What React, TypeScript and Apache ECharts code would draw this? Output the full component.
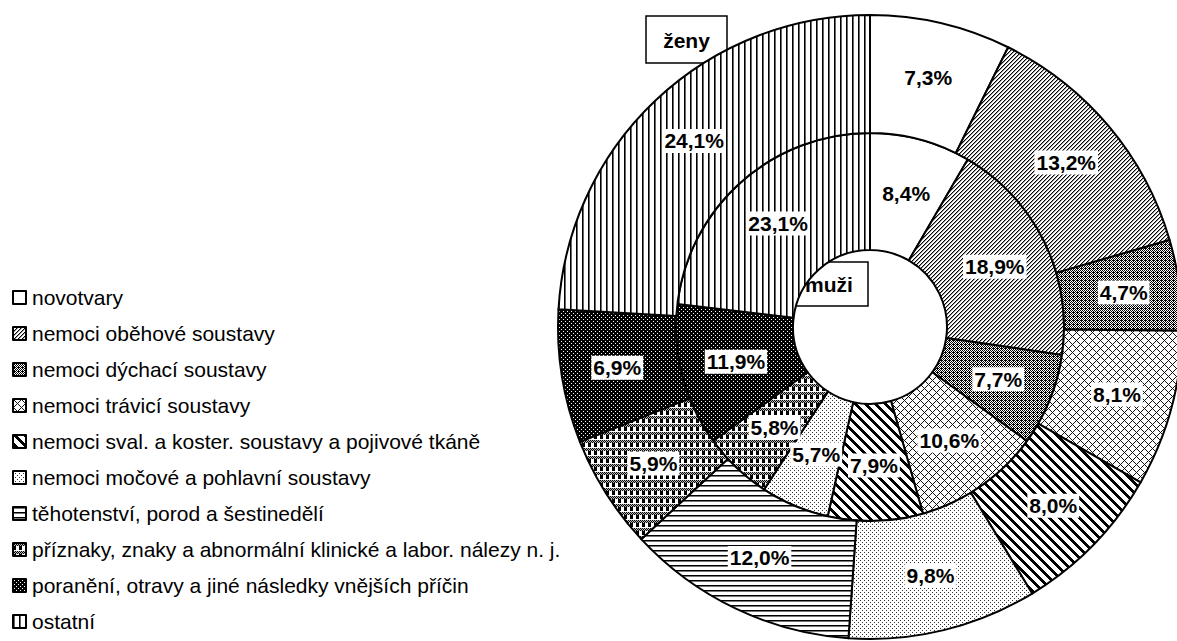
import React, { useEffect, useRef } from "react";
import * as echarts from "echarts";

const categories = [
  "novotvary",
  "nemoci oběhové soustavy",
  "nemoci dýchací soustavy",
  "nemoci trávicí soustavy",
  "nemoci sval. a koster. soustavy a pojivové tkáně",
  "nemoci močové a pohlavní soustavy",
  "těhotenství, porod a šestinedělí",
  "příznaky, znaky a abnormální klinické a labor. nálezy n. j.",
  "poranění, otravy a jiné následky vnějších příčin",
  "ostatní",
];
const zenyValues = [7.3, 13.2, 4.7, 8.1, 8.0, 9.8, 12.0, 5.9, 6.9, 24.1];
const muziValues = [8.4, 18.9, 7.7, 10.6, 7.9, 5.7, 0, 5.8, 11.9, 23.1];
const outerLabel = "ženy";
const innerLabel = "muži";

type PixFn = (x: number, y: number) => string | null;

function tile(w: number, h: number, fn: PixFn): any {
  const c = document.createElement("canvas");
  c.width = w;
  c.height = h;
  const ctx = c.getContext("2d")!;
  ctx.fillStyle = "#fff";
  ctx.fillRect(0, 0, w, h);
  for (let y = 0; y < h; y++) {
    for (let x = 0; x < w; x++) {
      const col = fn(x, y);
      if (col) {
        ctx.fillStyle = col;
        ctx.fillRect(x, y, 1, 1);
      }
    }
  }
  return { image: c.toDataURL(), repeat: "repeat", imageWidth: w, imageHeight: h };
}

function makePatterns(): any[] {
  return [
    "#ffffff",
    tile(4, 4, (x, y) => ((x + y) % 4 === 0 ? "#000" : (x + y) % 4 === 1 ? "#999" : null)),
    tile(4, 4, (x, y) => ((x + y) % 2 === 0 || (x % 4 === 1 && y % 4 === 0) ? "#000" : null)),
    tile(8, 8, (x, y) => ((x + y) % 8 === 0 || (x - y + 8) % 8 === 0 ? "#111" : null)),
    tile(10, 10, (x, y) => ((x - y + 10) % 10 < 4 ? "#000" : null)),
    tile(4, 4, (x, y) => ((x === 0 && y === 0) || (x === 2 && y === 2) ? "#333" : null)),
    tile(4, 5, (x, y) => (y === 0 ? "#000" : y === 1 ? "#777" : null)),
    tile(6, 8, (x, y) => (y < 3 ? ((x + y) % 2 === 0 ? "#000" : "#bbb") : x < 3 && y < 7 ? "#000" : null)),
    tile(4, 4, (x, y) => ((x === 1 && y === 1) || (x === 3 && y === 3) ? null : "#000")),
    tile(6, 1, (x) => (x === 0 ? "#000" : x === 1 ? "#666" : null)),
  ];
}

const FONT = "'Liberation Sans', Arial, sans-serif";

export default function App() {
  const ref = useRef<HTMLDivElement>(null);
  useEffect(() => {
    document.body.style.margin = "0";
    const chart = echarts.init(ref.current!, undefined, { renderer: "svg" });
    const patterns = makePatterns();
    const fmt = (p: any) => p.value.toFixed(1).replace(".", ",") + "%";
    const labelStyle = {
      show: true,
      position: "inside",
      formatter: fmt,
      fontFamily: FONT,
      fontWeight: "bold",
      fontSize: 21,
      color: "#000",
      backgroundColor: "#fff",
      padding: [2, 2, 1, 2],
    };
    const mk = (vals: number[]) =>
      categories.map((name, i) => ({
        name,
        value: vals[i],
        itemStyle: { color: patterns[i] },
        label: vals[i] === 0 ? { show: false } : undefined,
      }));
    chart.setOption({
      animation: false,
      legend: {
        orient: "vertical",
        left: 12,
        top: 287,
        padding: 0,
        icon: "rect",
        itemWidth: 13,
        itemHeight: 13,
        itemGap: 15,
        data: categories,
        textStyle: { fontFamily: FONT, fontSize: 21, color: "#000", lineHeight: 21, padding: [0, 0, 0, 1] },
        itemStyle: { borderColor: "#000", borderWidth: 2 },
        selectedMode: false,
      },
      series: [
        {
          type: "pie",
          name: innerLabel,
          center: [870, 327],
          radius: [77, 194],
          startAngle: 90,
          clockwise: true,
          label: labelStyle,
          labelLine: { show: false },
          itemStyle: { borderColor: "#000", borderWidth: 2 },
          emphasis: { disabled: true },
          data: mk(muziValues),
        },
        {
          type: "pie",
          name: outerLabel,
          center: [870, 327],
          radius: [194, 312],
          startAngle: 90,
          clockwise: true,
          label: labelStyle,
          labelLine: { show: false },
          itemStyle: { borderColor: "#000", borderWidth: 2 },
          emphasis: { disabled: true },
          data: mk(zenyValues),
        },
      ],
      graphic: [
        {
          type: "group",
          z: 100,
          children: [
            {
              type: "rect",
              shape: { x: 646, y: 16, width: 81, height: 47 },
              style: { fill: "#fff", stroke: "#000", lineWidth: 1.5 },
            },
            {
              type: "text",
              x: 686.5,
              y: 40,
              style: {
                text: outerLabel,
                font: `bold 21px ${FONT}`,
                fill: "#000",
                align: "center",
                verticalAlign: "middle",
              },
            },
            {
              type: "rect",
              shape: { x: 790, y: 262, width: 78, height: 44 },
              style: { fill: "#fff", stroke: "#000", lineWidth: 1.5 },
            },
            {
              type: "text",
              x: 829,
              y: 284,
              style: {
                text: innerLabel,
                font: `bold 21px ${FONT}`,
                fill: "#000",
                align: "center",
                verticalAlign: "middle",
              },
            },
          ],
        },
      ],
    });
    return () => chart.dispose();
  }, []);
  return <div ref={ref} style={{ width: 1177, height: 641 }} />;
}
